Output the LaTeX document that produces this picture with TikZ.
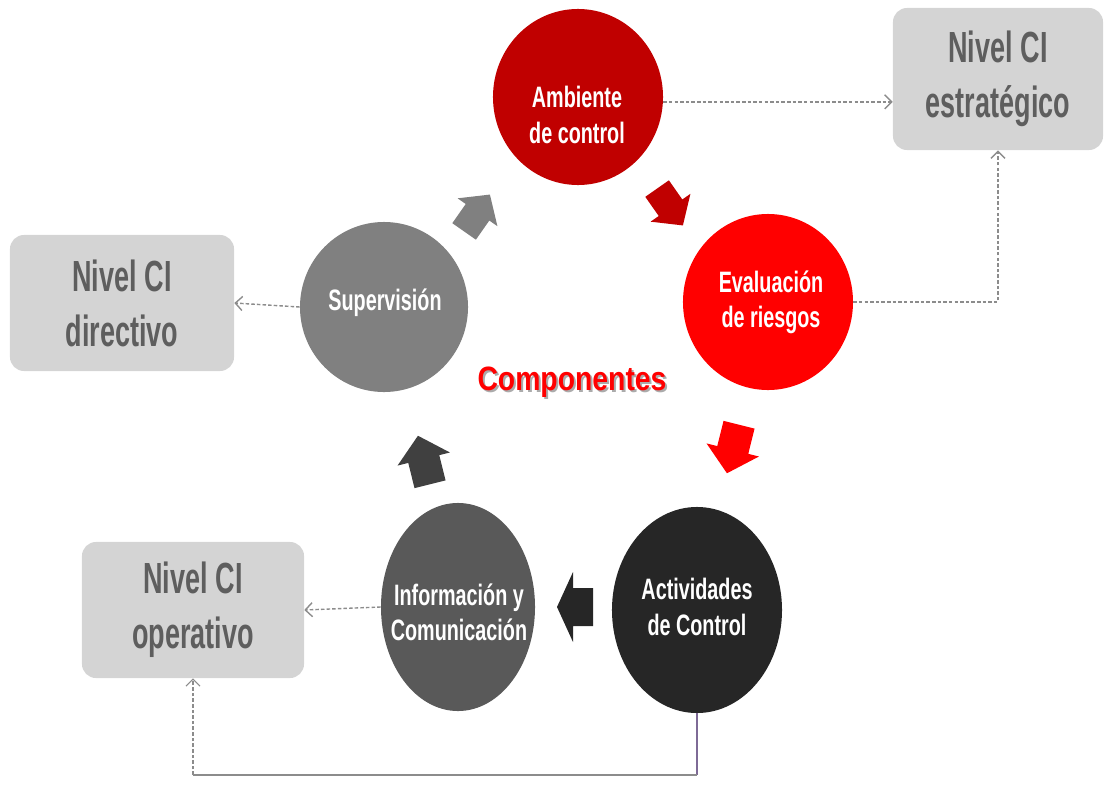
\documentclass[tikz,border=0pt]{standalone}
\usepackage{fontspec}
\usetikzlibrary{arrows.meta,shapes.geometric}

% fuentes estrechas
\newfontfamily\nivelfont[FakeStretch=0.62]{Liberation Sans}
\newfontfamily\compfont[FakeStretch=0.67]{Liberation Sans}
\newfontfamily\titfont[FakeStretch=0.84]{Liberation Sans}

% colores
\definecolor{rojooscuro}{HTML}{C00000}
\definecolor{rojo}{HTML}{FF0000}
\definecolor{negro}{HTML}{262626}
\definecolor{grisoscuro}{HTML}{595959}
\definecolor{grismedio}{HTML}{808080}
\definecolor{flechagris}{HTML}{404040}
\definecolor{caja}{HTML}{D4D4D4}
\definecolor{textocaja}{HTML}{5E5E5E}
\definecolor{linea}{HTML}{8C8C8C}
\definecolor{morado}{HTML}{7E6A96}

\tikzset{
  % flecha de bloque, centrada en el origen y apuntando a +x
  pics/flecha/.style={code={
    \fill (-25,-16) -- (1,-16) -- (1,-27) -- (25,0) -- (1,27) -- (1,16) -- (-25,16) -- cycle;
  }},
  pics/flechaancha/.style={code={
    \fill (-18,-19) -- (2,-19) -- (2,-35) -- (18,0) -- (2,35) -- (2,19) -- (-18,19) -- cycle;
  }},
}

\begin{document}
\begin{tikzpicture}[x=0.025cm, y=-0.025cm,
    comp/.style={ellipse, inner sep=0pt},
    comptxt/.style={text=white, align=center, font=\compfont\bfseries\fontsize{21}{25}\selectfont},
    nivel/.style={rectangle, rounded corners=0.35cm, fill=caja, text=textocaja, align=center,
                  font=\nivelfont\bfseries\fontsize{31}{39}\selectfont},
    conector/.style={draw=linea, line width=1pt, dash pattern=on 2.5pt off 1.5pt,
                     -{Straight Barb[length=5pt,width=10pt]}},
    fino/.style={draw=linea, line width=0.8pt}]

    \useasboundingbox (0,0) rectangle (1113,796);

    % 1. componentes (circulos)
    \node[comp, fill=rojooscuro, minimum width=4.25cm, minimum height=4.4cm] (amb) at (578,97) {};
    \node[comp, fill=rojo, minimum width=4.25cm, minimum height=4.4cm] (eval) at (768,302) {};
    \node[comp, fill=negro, minimum width=4.25cm, minimum height=5.15cm] (act) at (697,610) {};
    \node[comp, fill=grisoscuro, minimum width=3.85cm, minimum height=5.2cm] (info) at (458,607) {};
    \node[comp, fill=grismedio, minimum width=4.2cm, minimum height=4.25cm] (sup) at (384,307) {};

    % textos de los componentes
    \node[comptxt] (amb-t) at (577,115) {Ambiente\\de control};
    \node[comptxt] (eval-t) at (771,302) {Evaluación\\de riesgos};
    \node[comptxt] (act-t) at (697,607) {Actividades\\de Control};
    \node[comptxt] (info-t) at (459,612) {Información y\\Comunicación};
    \node[comptxt] (sup-t) at (385,303) {Supervisión};

    % titulo central con sombra
    \node[text=black!55, opacity=0.6, font=\titfont\bfseries\fontsize{24}{28}\selectfont]
        (comp-s) at (574,384) {Componentes};
    \node[text=rojo, font=\titfont\bfseries\fontsize{24}{28}\selectfont]
        (comp-t) at (572,382) {Componentes};

    % 2. flechas del ciclo
    \pic[color=grismedio, rotate=55, scale=0.9] at (477,213) {flecha};
    \pic[color=rojooscuro, rotate=-55, scale=0.9] at (670,207) {flecha};
    \pic[color=rojo, rotate=-104] at (733,449) {flecha};
    \pic[color=flechagris, rotate=104] at (424,460) {flecha};
    \pic[color=negro, rotate=180] at (575,607) {flechaancha};

    % 3. niveles de control interno
    \node[nivel, minimum width=5.25cm, minimum height=3.55cm] (estr) at (998,79) {Nivel CI\\estratégico};
    \node[nivel, minimum width=5.6cm, minimum height=3.4cm] (dir) at (122,303) {Nivel CI\\directivo};
    \node[nivel, minimum width=5.55cm, minimum height=3.4cm] (op) at (193,610) {Nivel CI\\operativo};

    % 4. conectores punteados
    \draw[conector] ([yshift=-0.12cm]amb.east) -- ([yshift=-0.12cm]amb.east -| estr.west);
    \draw[conector] (eval.east) -| (estr.south);
    \draw[conector] (sup.west) -- (dir.east);
    \draw[conector] (info.west) -- (op.east);

    % linea inferior hacia el nivel operativo
    \coordinate (esq-d) at (697,775);
    \coordinate (esq-i) at (193,775);
    \draw[fino, draw=morado] (act.south) -- (esq-d);
    \draw[fino] (esq-d) -- (esq-i);
    \draw[conector, line width=0.8pt] (esq-i) -- (op.south);

\end{tikzpicture}
\end{document}
